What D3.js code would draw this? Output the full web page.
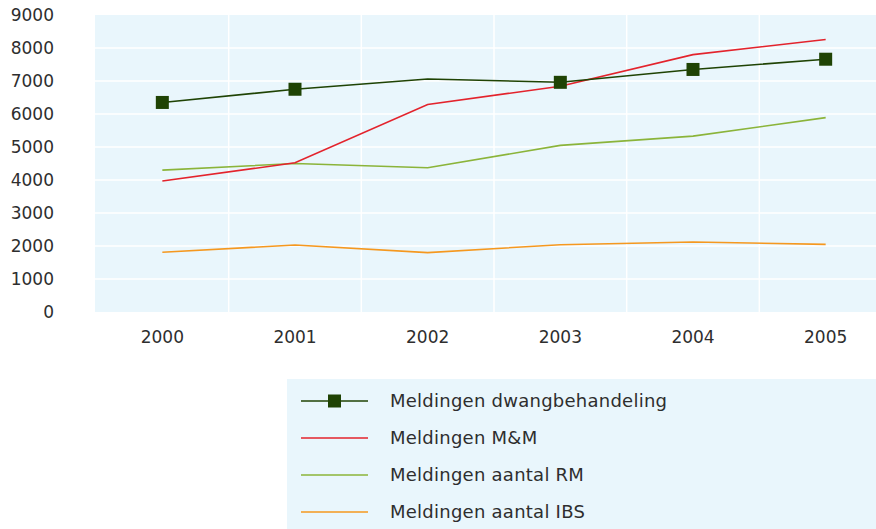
<!DOCTYPE html>
<html>
<head>
<meta charset="utf-8">
<script src="https://cdn.jsdelivr.net/npm/d3@7"></script>
<style>
  body { margin: 0; background: #fff; }
  svg { display: block; font-family: "DejaVu Sans", sans-serif; }
</style>
</head>
<body>
<svg id="chart" width="876" height="529"></svg>
<script>
const years = ["2000", "2001", "2002", "2003", "2004", "2005"];
const yTicks = [0, 1000, 2000, 3000, 4000, 5000, 6000, 7000, 8000, 9000];

const dwang = [6350, 6750, 7060, 6960, 7350, 7660];
const dwangMarked = ["2000", "2001", "2003", "2004", "2005"];
const mm = [3970, 4520, 6290, 6840, 7800, 8260];
const rm = [4300, 4500, 4370, 5050, 5330, 5890];
const ibs = [1810, 2030, 1800, 2040, 2120, 2050];

const series = [
    { name: "Meldingen dwangbehandeling", values: dwang, color: "#1f4304", marker: true },
    { name: "Meldingen M&M", values: mm, color: "#e3232c", marker: false },
    { name: "Meldingen aantal RM", values: rm, color: "#8bb43a", marker: false },
    { name: "Meldingen aantal IBS", values: ibs, color: "#f5981f", marker: false },
];

const svg = d3.select("#chart");
const bg = "#e9f6fc";
const textColor = "#2e2e2e";
const fontSize = 17;

const x = d3.scaleBand().domain(years).range([96, 892]);
const y = d3.scaleLinear().domain([0, 9000]).range([312, 15]);

// plot background
svg.append("rect")
    .attr("x", 95)
    .attr("y", y(9000))
    .attr("width", 876 - 95)
    .attr("height", y(0) - y(9000))
    .attr("fill", bg);

// horizontal grid
svg.append("g")
    .selectAll("line")
    .data(yTicks.filter((d) => d > 0 && d < 9000))
    .enter()
    .append("line")
    .attr("x1", 95)
    .attr("x2", 876)
    .attr("y1", (d) => y(d))
    .attr("y2", (d) => y(d))
    .attr("stroke", "#fff")
    .attr("stroke-width", 1.5);

// vertical grid between categories
svg.append("g")
    .selectAll("line")
    .data(years.slice(1))
    .enter()
    .append("line")
    .attr("x1", (d) => x(d))
    .attr("x2", (d) => x(d))
    .attr("y1", y(9000))
    .attr("y2", y(0))
    .attr("stroke", "#fff")
    .attr("stroke-width", 1.5);

// y axis labels
const yAxis = svg.append("g")
    .attr("transform", "translate(54,0)")
    .call(d3.axisLeft(y).tickValues(yTicks).tickSize(0).tickPadding(0).tickFormat(d3.format("d")));
yAxis.select(".domain").remove();
yAxis.selectAll("text")
    .attr("font-size", fontSize)
    .attr("fill", textColor)
    .attr("font-family", "DejaVu Sans, sans-serif");

// x axis labels
const xAxis = svg.append("g")
    .attr("transform", "translate(0,331)")
    .call(d3.axisBottom(x).tickSize(0).tickPadding(0));
xAxis.select(".domain").remove();
xAxis.selectAll("text")
    .attr("font-size", fontSize)
    .attr("fill", textColor)
    .attr("font-family", "DejaVu Sans, sans-serif");

const cx = (i) => x(years[i]) + x.bandwidth() / 2;
const line = d3.line()
    .x((d, i) => cx(i))
    .y((d) => y(d));

// draw bottom series first
series.slice().reverse().forEach((s) => {
    svg.append("path")
        .datum(s.values)
        .attr("fill", "none")
        .attr("stroke", s.color)
        .attr("stroke-width", 1.6)
        .attr("d", line);
    if (s.marker) {
        const pts = s.values
            .map((v, i) => ({ v, i }))
            .filter((p) => dwangMarked.includes(years[p.i]));
        svg.append("g")
            .selectAll("rect")
            .data(pts)
            .enter()
            .append("rect")
            .attr("x", (d) => cx(d.i) - 6.5)
            .attr("y", (d) => y(d.v) - 6.5)
            .attr("width", 13)
            .attr("height", 13)
            .attr("fill", s.color);
    }
});

// legend
const legend = svg.append("g");
legend.append("rect")
    .attr("x", 287)
    .attr("y", 379)
    .attr("width", 876 - 287)
    .attr("height", 150)
    .attr("fill", bg);

const row = legend.selectAll("g.row")
    .data(series)
    .enter()
    .append("g")
    .attr("class", "row")
    .attr("transform", (d, i) => `translate(0,${401 + i * 37})`);

row.append("line")
    .attr("x1", 301)
    .attr("x2", 368)
    .attr("stroke", (d) => d.color)
    .attr("stroke-width", 1.6);

row.filter((d) => d.marker)
    .append("rect")
    .attr("x", 328)
    .attr("y", -6.5)
    .attr("width", 13)
    .attr("height", 13)
    .attr("fill", (d) => d.color);

row.append("text")
    .attr("x", 390)
    .attr("dy", "0.35em")
    .attr("font-size", 18)
    .attr("letter-spacing", 0.25)
    .attr("fill", textColor)
    .text((d) => d.name);
</script>
</body>
</html>
